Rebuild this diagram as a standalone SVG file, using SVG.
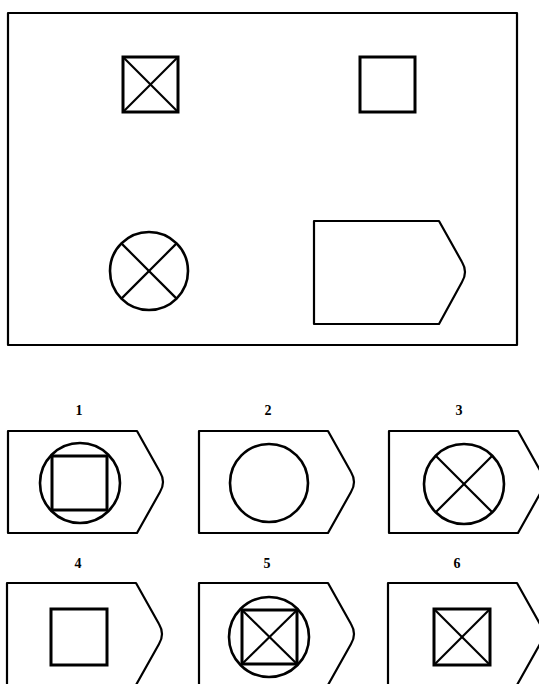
<svg xmlns="http://www.w3.org/2000/svg" xmlns:xlink="http://www.w3.org/1999/xlink" width="539" height="684" viewBox="0 0 539 684">
<style>
.ln{fill:none;stroke:#000;stroke-width:2.2;stroke-linejoin:round}
.sq{fill:none;stroke:#000;stroke-width:3}
.ci{fill:none;stroke:#000;stroke-width:2.6}
.x{stroke:#000;stroke-width:2.2}
.lbl{font-family:"Liberation Serif","DejaVu Serif",serif;font-weight:bold;font-size:14px;text-anchor:middle;fill:#000}
</style>
<defs>
<path id="pent" d="M0,0 H129 L152,41 Q158,51 152,61 L129,102 H0 Z"/>
</defs>
<rect width="539" height="684" fill="#fff"/>
<g id="problem">
<rect class="ln" x="8" y="13" width="509" height="332"/>
<g id="p-xsquare">
<rect class="sq" x="123" y="57" width="55" height="55"/>
<line class="x" x1="123" y1="57" x2="178" y2="112"/>
<line class="x" x1="178" y1="57" x2="123" y2="112"/>
</g>
<g id="p-square">
<rect class="sq" x="360" y="57" width="55" height="55"/>
</g>
<g id="p-xcircle">
<circle class="ci" cx="149" cy="271" r="39"/>
<line class="x" x1="121.4" y1="243.4" x2="176.6" y2="298.6"/>
<line class="x" x1="176.6" y1="243.4" x2="121.4" y2="298.6"/>
</g>
<g id="p-pentagon">
<path class="ln" d="M314,221 H439 L462,262 Q468,272 462,282 L439,324 H314 Z"/>
</g>
</g>
<g id="opt1">
<text class="lbl" x="79" y="415">1</text>
<use href="#pent" class="ln" x="8" y="431"/>
<circle class="ci" cx="80" cy="483" r="40"/>
<rect class="sq" x="52" y="456" width="55" height="54"/>
</g>
<g id="opt2">
<text class="lbl" x="268" y="415">2</text>
<use href="#pent" class="ln" x="199" y="431"/>
<circle class="ci" cx="269" cy="483" r="39"/>
</g>
<g id="opt3">
<text class="lbl" x="459" y="415">3</text>
<use href="#pent" class="ln" x="389" y="431"/>
<circle class="ci" cx="464" cy="484" r="40"/>
<line class="x" x1="435.7" y1="455.7" x2="492.3" y2="512.3"/>
<line class="x" x1="492.3" y1="455.7" x2="435.7" y2="512.3"/>
</g>
<g id="opt4">
<text class="lbl" x="78" y="568">4</text>
<use href="#pent" class="ln" x="7" y="583"/>
<rect class="sq" x="51" y="609" width="56" height="56"/>
</g>
<g id="opt5">
<text class="lbl" x="267" y="568">5</text>
<use href="#pent" class="ln" x="199" y="583"/>
<circle class="ci" cx="269" cy="637" r="40"/>
<rect class="sq" x="242" y="610" width="55" height="54"/>
<line class="x" x1="242" y1="610" x2="297" y2="664"/>
<line class="x" x1="297" y1="610" x2="242" y2="664"/>
</g>
<g id="opt6">
<text class="lbl" x="457" y="568">6</text>
<use href="#pent" class="ln" x="388" y="583"/>
<rect class="sq" x="434" y="609" width="56" height="56"/>
<line class="x" x1="434" y1="609" x2="490" y2="665"/>
<line class="x" x1="490" y1="609" x2="434" y2="665"/>
</g>
</svg>
